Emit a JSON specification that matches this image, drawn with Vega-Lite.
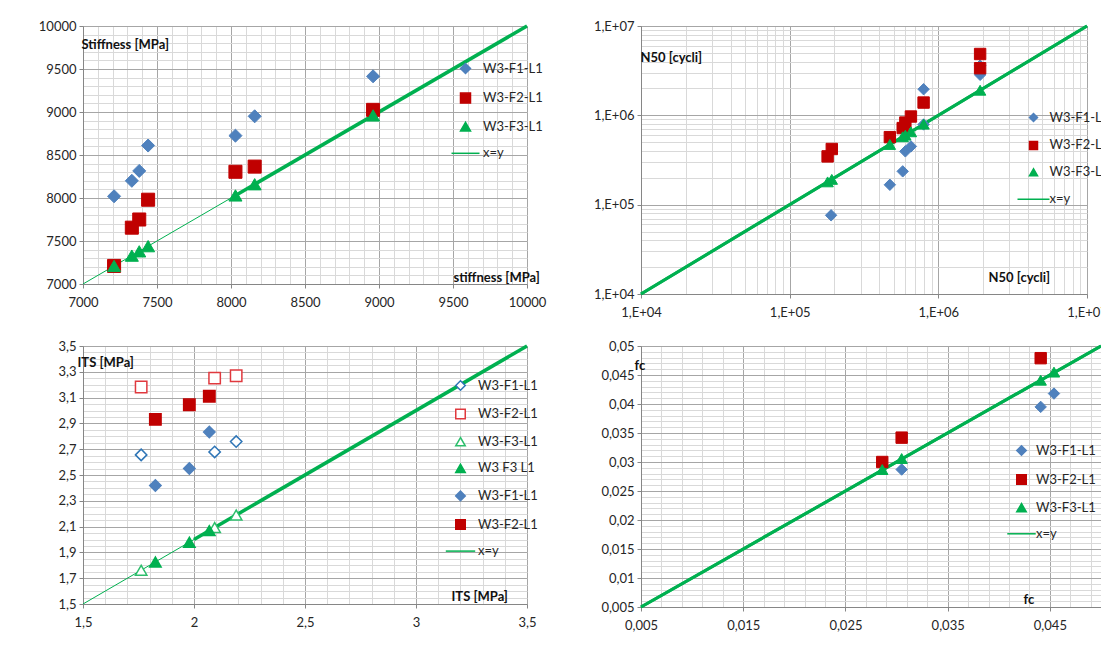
{
  "$schema": "https://vega.github.io/schema/vega-lite/v6.json",
  "background": "white",
  "padding": {"left": 37, "top": 18, "right": 0, "bottom": 0},
  "columns": 2,
  "align": "each",
  "bounds": "flush",
  "spacing": {"row": 52, "column": 114},
  "resolve": {
    "scale": {"x": "independent", "y": "independent", "shape": "independent", "fill": "independent", "stroke": "independent"},
    "legend": {"shape": "independent", "fill": "independent", "stroke": "independent"}
  },
  "config": {
    "font": "Lato",
    "view": {"stroke": "#A6A6A6", "strokeWidth": 1},
    "axis": {"labelFont": "Lato", "labelFontSize": 13, "labelColor": "#262626", "labelOverlap": false, "labelFlush": false, "labelBound": false, "titleFont": "Lato", "titleFontSize": 13, "titleFontWeight": "bold", "titleColor": "#111111", "tickColor": "#868686", "tickSize": 4, "domainColor": "#868686", "gridWidth": 1},
    "legend": {"labelFont": "Lato", "labelFontSize": 13, "labelColor": "#262626", "padding": 0, "titlePadding": 0, "symbolSize": 100}
  },
  "concat": [
    {
      "width": 444, "height": 258,
      "layer": [
        {
          "data": {"values": [{"x": 7000, "y": 7000}, {"x": 10000, "y": 10000}]},
          "mark": {"type": "line", "color": "#00B050", "strokeWidth": 1},
          "encoding": {
            "x": {"field": "x", "type": "quantitative", "scale": {"domain": [7000, 10000], "nice": false, "zero": false},
              "axis": {"orient": "bottom", "values": [7000,7100,7200,7300,7400,7500,7600,7700,7800,7900,8000,8100,8200,8300,8400,8500,8600,8700,8800,8900,9000,9100,9200,9300,9400,9500,9600,9700,9800,9900,10000], "grid": true, "gridColor": "#D9D9D9", "labels": false, "ticks": false, "domain": false, "title": null}},
            "y": {"field": "y", "type": "quantitative", "scale": {"domain": [7000, 10000], "nice": false, "zero": false},
              "axis": {"orient": "left", "values": [7000,7100,7200,7300,7400,7500,7600,7700,7800,7900,8000,8100,8200,8300,8400,8500,8600,8700,8800,8900,9000,9100,9200,9300,9400,9500,9600,9700,9800,9900,10000], "grid": true, "gridColor": "#D9D9D9", "labels": false, "ticks": false, "domain": false, "title": null}}
          }
        },
        {
          "data": {"values": [{"x": 8030, "y": 8030}, {"x": 10000, "y": 10000}]},
          "mark": {"type": "line", "color": "#00B050", "strokeWidth": 3.5},
          "encoding": {
            "x": {"field": "x", "type": "quantitative", "scale": {"domain": [7000, 10000], "nice": false, "zero": false},
              "axis": {"orient": "bottom", "values": [7000,7500,8000,8500,9000,9500,10000], "grid": true, "gridColor": "#A6A6A6", "format": "d", "labelPadding": 8, "title": "stiffness [MPa]", "titleAngle": 0, "titleAlign": "left", "titleBaseline": "middle", "titleX": 370, "titleY": -7}},
            "y": {"field": "y", "type": "quantitative", "scale": {"domain": [7000, 10000], "nice": false, "zero": false},
              "axis": {"orient": "left", "values": [7000,7500,8000,8500,9000,9500,10000], "grid": true, "gridColor": "#A6A6A6", "format": "d", "labelPadding": 3, "title": "Stiffness [MPa]", "titleAngle": 0, "titleAlign": "left", "titleBaseline": "middle", "titleX": -2, "titleY": 18}}
          }
        },
        {
          "data": {"values": [
            {"x": 7210, "y": 8020, "s": "W3-F1-L1"}, {"x": 7330, "y": 8200, "s": "W3-F1-L1"}, {"x": 7380, "y": 8315, "s": "W3-F1-L1"}, {"x": 7440, "y": 8610, "s": "W3-F1-L1"}, {"x": 8030, "y": 8725, "s": "W3-F1-L1"}, {"x": 8160, "y": 8950, "s": "W3-F1-L1"}, {"x": 8960, "y": 9415, "s": "W3-F1-L1"},
            {"x": 7210, "y": 7210, "s": "W3-F2-L1"}, {"x": 7330, "y": 7655, "s": "W3-F2-L1"}, {"x": 7380, "y": 7750, "s": "W3-F2-L1"}, {"x": 7440, "y": 7980, "s": "W3-F2-L1"}, {"x": 8030, "y": 8305, "s": "W3-F2-L1"}, {"x": 8160, "y": 8365, "s": "W3-F2-L1"}, {"x": 8960, "y": 9025, "s": "W3-F2-L1"},
            {"x": 7210, "y": 7210, "s": "W3-F3-L1"}, {"x": 7330, "y": 7330, "s": "W3-F3-L1"}, {"x": 7380, "y": 7380, "s": "W3-F3-L1"}, {"x": 7440, "y": 7440, "s": "W3-F3-L1"}, {"x": 8030, "y": 8030, "s": "W3-F3-L1"}, {"x": 8160, "y": 8160, "s": "W3-F3-L1"}, {"x": 8960, "y": 8960, "s": "W3-F3-L1"}
          ]},
          "mark": {"type": "point", "size": 170, "strokeWidth": 1, "opacity": 1},
          "encoding": {
            "x": {"field": "x", "type": "quantitative", "scale": {"domain": [7000, 10000], "nice": false, "zero": false}, "axis": null},
            "y": {"field": "y", "type": "quantitative", "scale": {"domain": [7000, 10000], "nice": false, "zero": false}, "axis": null},
            "fill": {"field": "s", "type": "nominal", "scale": {"domain": ["W3-F1-L1", "W3-F2-L1", "W3-F3-L1", "x=y"], "range": ["#4F81BD", "#C00000", "#00B050", "#00B050"]},
              "legend": {"orient": "none", "legendX": 376, "legendY": 36, "title": null, "rowPadding": 12.6, "labelOffset": 11}},
            "stroke": {"field": "s", "type": "nominal", "scale": {"domain": ["W3-F1-L1", "W3-F2-L1", "W3-F3-L1", "x=y"], "range": ["#4F81BD", "#C00000", "#00B050", "#00B050"]},
              "legend": {"orient": "none", "legendX": 376, "legendY": 36, "title": null, "rowPadding": 12.6, "labelOffset": 11}},
            "shape": {"field": "s", "type": "nominal", "scale": {"domain": ["W3-F1-L1", "W3-F2-L1", "W3-F3-L1", "x=y"], "range": ["diamond", "square", "triangle-up", "M-2.8,0H2.8"]},
              "legend": {"orient": "none", "legendX": 376, "legendY": 36, "title": null, "rowPadding": 12.6, "labelOffset": 11}}
          }
        }
      ],
      "resolve": {"axis": {"x": "independent", "y": "independent"}}
    },
    {
      "width": 446, "height": 268,
      "layer": [
        {
          "data": {"values": [{"x": 10000, "y": 10000}, {"x": 10000000, "y": 10000000}]},
          "mark": {"type": "line", "color": "#00B050", "strokeWidth": 3},
          "encoding": {
            "x": {"field": "x", "type": "quantitative", "scale": {"type": "log", "domain": [10000, 10000000], "nice": false},
              "axis": {"orient": "bottom", "values": [20000,30000,40000,50000,60000,70000,80000,90000,200000,300000,400000,500000,600000,700000,800000,900000,2000000,3000000,4000000,5000000,6000000,7000000,8000000,9000000], "grid": true, "gridColor": "#D9D9D9", "labels": false, "ticks": false, "domain": false, "title": null}},
            "y": {"field": "y", "type": "quantitative", "scale": {"type": "log", "domain": [10000, 10000000], "nice": false},
              "axis": {"orient": "left", "values": [20000,30000,40000,50000,60000,70000,80000,90000,200000,300000,400000,500000,600000,700000,800000,900000,2000000,3000000,4000000,5000000,6000000,7000000,8000000,9000000], "grid": true, "gridColor": "#D9D9D9", "labels": false, "ticks": false, "domain": false, "title": null}}
          }
        },
        {
          "data": {"values": [{"x": 10000, "y": 10000}, {"x": 10000000, "y": 10000000}]},
          "mark": {"type": "line", "color": "#00B050", "strokeWidth": 3},
          "encoding": {
            "x": {"field": "x", "type": "quantitative", "scale": {"type": "log", "domain": [10000, 10000000], "nice": false},
              "axis": {"orient": "bottom", "values": [10000, 100000, 1000000, 10000000], "grid": true, "gridColor": "#A6A6A6", "labelExpr": "'1,E+0' + round(log(datum.value) / LN10)", "labelPadding": 8, "title": "N50 [cycli]", "titleAngle": 0, "titleAlign": "left", "titleBaseline": "middle", "titleX": 347, "titleY": -17}},
            "y": {"field": "y", "type": "quantitative", "scale": {"type": "log", "domain": [10000, 10000000], "nice": false},
              "axis": {"orient": "left", "values": [10000, 100000, 1000000, 10000000], "grid": true, "gridColor": "#A6A6A6", "labelExpr": "'1,E+0' + round(log(datum.value) / LN10)", "labelPadding": 3, "title": "N50 [cycli]", "titleAngle": 0, "titleAlign": "left", "titleBaseline": "middle", "titleX": -1, "titleY": 31}}
          }
        },
        {
          "data": {"values": [
            {"x": 190000, "y": 76000, "s": "W3-F1-L1"}, {"x": 472000, "y": 167000, "s": "W3-F1-L1"}, {"x": 576000, "y": 236000, "s": "W3-F1-L1"}, {"x": 600000, "y": 395000, "s": "W3-F1-L1"}, {"x": 654000, "y": 449000, "s": "W3-F1-L1"}, {"x": 796000, "y": 1960000, "s": "W3-F1-L1"}, {"x": 796000, "y": 790000, "s": "W3-F1-L1"}, {"x": 1910000, "y": 2840000, "s": "W3-F1-L1"}, {"x": 1910000, "y": 3600000, "s": "W3-F1-L1"},
            {"x": 180000, "y": 347000, "s": "W3-F2-L1"}, {"x": 192000, "y": 420000, "s": "W3-F2-L1"}, {"x": 472000, "y": 570000, "s": "W3-F2-L1"}, {"x": 576000, "y": 720000, "s": "W3-F2-L1"}, {"x": 600000, "y": 830000, "s": "W3-F2-L1"}, {"x": 654000, "y": 970000, "s": "W3-F2-L1"}, {"x": 796000, "y": 1390000, "s": "W3-F2-L1"}, {"x": 1910000, "y": 4860000, "s": "W3-F2-L1"}, {"x": 1910000, "y": 3370000, "s": "W3-F2-L1"},
            {"x": 180000, "y": 180000, "s": "W3-F3-L1"}, {"x": 192000, "y": 192000, "s": "W3-F3-L1"}, {"x": 472000, "y": 472000, "s": "W3-F3-L1"}, {"x": 576000, "y": 576000, "s": "W3-F3-L1"}, {"x": 600000, "y": 600000, "s": "W3-F3-L1"}, {"x": 654000, "y": 654000, "s": "W3-F3-L1"}, {"x": 796000, "y": 796000, "s": "W3-F3-L1"}, {"x": 1910000, "y": 1910000, "s": "W3-F3-L1"}
          ]},
          "mark": {"type": "point", "size": 130, "strokeWidth": 1, "opacity": 1},
          "encoding": {
            "x": {"field": "x", "type": "quantitative", "scale": {"type": "log", "domain": [10000, 10000000], "nice": false}, "axis": null},
            "y": {"field": "y", "type": "quantitative", "scale": {"type": "log", "domain": [10000, 10000000], "nice": false}, "axis": null},
            "fill": {"field": "s", "type": "nominal", "scale": {"domain": ["W3-F1-L1", "W3-F2-L1", "W3-F3-L1", "x=y"], "range": ["#4F81BD", "#C00000", "#00B050", "#00B050"]},
              "legend": {"orient": "none", "legendX": 386, "legendY": 85, "title": null, "rowPadding": 12.9, "labelOffset": 9.5, "symbolSize": 64, "encode": {"symbols": {"update": {"strokeWidth": {"value": 3}}}}}},
            "stroke": {"field": "s", "type": "nominal", "scale": {"domain": ["W3-F1-L1", "W3-F2-L1", "W3-F3-L1", "x=y"], "range": ["#4F81BD", "#C00000", "#00B050", "#00B050"]},
              "legend": {"orient": "none", "legendX": 386, "legendY": 85, "title": null, "rowPadding": 12.9, "labelOffset": 9.5, "symbolSize": 64, "encode": {"symbols": {"update": {"strokeWidth": {"value": 3}}}}}},
            "shape": {"field": "s", "type": "nominal", "scale": {"domain": ["W3-F1-L1", "W3-F2-L1", "W3-F3-L1", "x=y"], "range": ["diamond", "square", "triangle-up", "M-4,0H4"]},
              "legend": {"orient": "none", "legendX": 386, "legendY": 85, "title": null, "rowPadding": 12.9, "labelOffset": 9.5, "symbolSize": 64, "encode": {"symbols": {"update": {"strokeWidth": {"value": 3}}}}}}
          }
        }
      ],
      "resolve": {"axis": {"x": "independent", "y": "independent"}}
    },
    {
      "width": 444, "height": 258,
      "layer": [
        {
          "data": {"values": [{"x": 1.5, "y": 1.5}, {"x": 3.5, "y": 3.5}]},
          "mark": {"type": "line", "color": "#00B050", "strokeWidth": 1},
          "encoding": {
            "x": {"field": "x", "type": "quantitative", "scale": {"domain": [1.5, 3.5], "nice": false, "zero": false},
              "axis": {"orient": "bottom", "values": [1.5,1.6,1.7,1.8,1.9,2,2.1,2.2,2.3,2.4,2.5,2.6,2.7,2.8,2.9,3,3.1,3.2,3.3,3.4,3.5], "grid": true, "gridColor": "#D9D9D9", "labels": false, "ticks": false, "domain": false, "title": null}},
            "y": {"field": "y", "type": "quantitative", "scale": {"domain": [1.5, 3.5], "nice": false, "zero": false},
              "axis": {"orient": "left", "values": [1.5,1.55,1.6,1.65,1.7,1.75,1.8,1.85,1.9,1.95,2,2.05,2.1,2.15,2.2,2.25,2.3,2.35,2.4,2.45,2.5,2.55,2.6,2.65,2.7,2.75,2.8,2.85,2.9,2.95,3,3.05,3.1,3.15,3.2,3.25,3.3,3.35,3.4,3.45,3.5], "grid": true, "gridColor": "#D9D9D9", "labels": false, "ticks": false, "domain": false, "title": null}}
          }
        },
        {
          "data": {"values": [{"x": 2.0, "y": 2.0}, {"x": 3.5, "y": 3.5}]},
          "mark": {"type": "line", "color": "#00B050", "strokeWidth": 3.5},
          "encoding": {
            "x": {"field": "x", "type": "quantitative", "scale": {"domain": [1.5, 3.5], "nice": false, "zero": false},
              "axis": {"orient": "bottom", "values": [1.5, 2, 2.5, 3, 3.5], "grid": true, "gridColor": "#A6A6A6", "labelExpr": "replace(toString(datum.value), '.', ',')", "labelPadding": 8, "title": "ITS [MPa]", "titleAngle": 0, "titleAlign": "left", "titleBaseline": "middle", "titleX": 368, "titleY": -8}},
            "y": {"field": "y", "type": "quantitative", "scale": {"domain": [1.5, 3.5], "nice": false, "zero": false},
              "axis": {"orient": "left", "values": [1.5,1.7,1.9,2.1,2.3,2.5,2.7,2.9,3.1,3.3,3.5], "grid": true, "gridColor": "#A6A6A6", "labelExpr": "replace(toString(datum.value), '.', ',')", "labelPadding": 3, "title": "ITS [MPa]", "titleAngle": 0, "titleAlign": "left", "titleBaseline": "middle", "titleX": -6, "titleY": 16}}
          }
        },
        {
          "data": {"values": [
            {"x": 1.762, "y": 2.656, "s": "W3-F1-L1"}, {"x": 2.093, "y": 2.679, "s": "W3-F1-L1"}, {"x": 2.19, "y": 2.759, "s": "W3-F1-L1"},
            {"x": 1.762, "y": 3.182, "s": "W3-F2-L1"}, {"x": 2.093, "y": 3.251, "s": "W3-F2-L1"}, {"x": 2.19, "y": 3.269, "s": "W3-F2-L1"},
            {"x": 1.762, "y": 1.762, "s": "W3-F3-L1"}, {"x": 2.093, "y": 2.093, "s": "W3-F3-L1"}, {"x": 2.19, "y": 2.19, "s": "W3-F3-L1"},
            {"x": 1.826, "y": 1.826, "s": "W3 F3 L1"}, {"x": 1.979, "y": 1.979, "s": "W3 F3 L1"}, {"x": 2.069, "y": 2.069, "s": "W3 F3 L1"},
            {"x": 1.826, "y": 2.418, "s": "W3-F1-L1 "}, {"x": 1.979, "y": 2.551, "s": "W3-F1-L1 "}, {"x": 2.069, "y": 2.833, "s": "W3-F1-L1 "},
            {"x": 1.826, "y": 2.931, "s": "W3-F2-L1 "}, {"x": 1.979, "y": 3.044, "s": "W3-F2-L1 "}, {"x": 2.069, "y": 3.110, "s": "W3-F2-L1 "}
          ]},
          "mark": {"type": "point", "size": 130, "strokeWidth": 1.5, "opacity": 1},
          "encoding": {
            "x": {"field": "x", "type": "quantitative", "scale": {"domain": [1.5, 3.5], "nice": false, "zero": false}, "axis": null},
            "y": {"field": "y", "type": "quantitative", "scale": {"domain": [1.5, 3.5], "nice": false, "zero": false}, "axis": null},
            "fill": {"field": "s", "type": "nominal", "scale": {"domain": ["W3-F1-L1", "W3-F2-L1", "W3-F3-L1", "W3 F3 L1", "W3-F1-L1 ", "W3-F2-L1 ", "x=y"], "range": ["#FFFFFF", "#FFFFFF", "#FFFFFF", "#00B050", "#4F81BD", "#C00000", "#00B050"]},
              "legend": {"orient": "none", "legendX": 371, "legendY": 33, "title": null, "rowPadding": 11.6, "labelOffset": 11, "symbolSize": 90}},
            "stroke": {"field": "s", "type": "nominal", "scale": {"domain": ["W3-F1-L1", "W3-F2-L1", "W3-F3-L1", "W3 F3 L1", "W3-F1-L1 ", "W3-F2-L1 ", "x=y"], "range": ["#2E75B6", "#E0393E", "#2DBE6C", "#00B050", "#4F81BD", "#C00000", "#00B050"]},
              "legend": {"orient": "none", "legendX": 371, "legendY": 33, "title": null, "rowPadding": 11.6, "labelOffset": 11, "symbolSize": 90}},
            "shape": {"field": "s", "type": "nominal", "scale": {"domain": ["W3-F1-L1", "W3-F2-L1", "W3-F3-L1", "W3 F3 L1", "W3-F1-L1 ", "W3-F2-L1 ", "x=y"], "range": ["diamond", "square", "triangle-up", "triangle-up", "diamond", "square", "M-3.1,0H3.1"]},
              "legend": {"orient": "none", "legendX": 371, "legendY": 33, "title": null, "rowPadding": 11.6, "labelOffset": 11, "symbolSize": 90}}
          }
        }
      ],
      "resolve": {"axis": {"x": "independent", "y": "independent"}}
    },
    {
      "width": 460, "height": 261,
      "layer": [
        {
          "data": {"values": [{"x": 0.005, "y": 0.005}, {"x": 0.05, "y": 0.05}]},
          "mark": {"type": "line", "color": "#00B050", "strokeWidth": 3},
          "encoding": {
            "x": {"field": "x", "type": "quantitative", "scale": {"domain": [0.005, 0.05], "nice": false, "zero": false},
              "axis": {"orient": "bottom", "values": [0.005,0.007,0.009,0.011,0.013,0.015,0.017,0.019,0.021,0.023,0.025,0.027,0.029,0.031,0.033,0.035,0.037,0.039,0.041,0.043,0.045,0.047,0.049], "grid": true, "gridColor": "#D9D9D9", "labels": false, "ticks": false, "domain": false, "title": null}},
            "y": {"field": "y", "type": "quantitative", "scale": {"domain": [0.005, 0.05], "nice": false, "zero": false},
              "axis": {"orient": "left", "values": [0.005,0.006,0.007,0.008,0.009,0.01,0.011,0.012,0.013,0.014,0.015,0.016,0.017,0.018,0.019,0.02,0.021,0.022,0.023,0.024,0.025,0.026,0.027,0.028,0.029,0.03,0.031,0.032,0.033,0.034,0.035,0.036,0.037,0.038,0.039,0.04,0.041,0.042,0.043,0.044,0.045,0.046,0.047,0.048,0.049,0.05], "grid": true, "gridColor": "#D9D9D9", "labels": false, "ticks": false, "domain": false, "title": null}}
          }
        },
        {
          "data": {"values": [{"x": 0.005, "y": 0.005}, {"x": 0.05, "y": 0.05}]},
          "mark": {"type": "line", "color": "#00B050", "strokeWidth": 3},
          "encoding": {
            "x": {"field": "x", "type": "quantitative", "scale": {"domain": [0.005, 0.05], "nice": false, "zero": false},
              "axis": {"orient": "bottom", "values": [0.005, 0.015, 0.025, 0.035, 0.045], "grid": true, "gridColor": "#A6A6A6", "labelExpr": "replace(toString(datum.value), '.', ',')", "labelPadding": 8, "title": "fc", "titleAngle": 0, "titleAlign": "left", "titleBaseline": "middle", "titleX": 382, "titleY": -8}},
            "y": {"field": "y", "type": "quantitative", "scale": {"domain": [0.005, 0.05], "nice": false, "zero": false},
              "axis": {"orient": "left", "values": [0.005,0.01,0.015,0.02,0.025,0.03,0.035,0.04,0.045,0.05], "grid": true, "gridColor": "#A6A6A6", "labelExpr": "replace(toString(datum.value), '.', ',')", "labelPadding": 3, "title": "fc", "titleAngle": 0, "titleAlign": "left", "titleBaseline": "middle", "titleX": -7, "titleY": 19}}
          }
        },
        {
          "data": {"values": [
            {"x": 0.0305, "y": 0.0287, "s": "W3-F1-L1"}, {"x": 0.0441, "y": 0.0395, "s": "W3-F1-L1"}, {"x": 0.0454, "y": 0.0418, "s": "W3-F1-L1"},
            {"x": 0.0286, "y": 0.0300, "s": "W3-F2-L1"}, {"x": 0.0305, "y": 0.0342, "s": "W3-F2-L1"}, {"x": 0.0441, "y": 0.0479, "s": "W3-F2-L1"},
            {"x": 0.0286, "y": 0.0287, "s": "W3-F3-L1"}, {"x": 0.0305, "y": 0.0306, "s": "W3-F3-L1"}, {"x": 0.0441, "y": 0.0441, "s": "W3-F3-L1"}, {"x": 0.0454, "y": 0.0455, "s": "W3-F3-L1"}
          ]},
          "mark": {"type": "point", "size": 130, "strokeWidth": 1, "opacity": 1},
          "encoding": {
            "x": {"field": "x", "type": "quantitative", "scale": {"domain": [0.005, 0.05], "nice": false, "zero": false}, "axis": null},
            "y": {"field": "y", "type": "quantitative", "scale": {"domain": [0.005, 0.05], "nice": false, "zero": false}, "axis": null},
            "fill": {"field": "s", "type": "nominal", "scale": {"domain": ["W3-F1-L1", "W3-F2-L1", "W3-F3-L1", "x=y"], "range": ["#4F81BD", "#C00000", "#00B050", "#00B050"]},
              "legend": {"orient": "none", "legendX": 374, "legendY": 98, "title": null, "rowPadding": 12.1, "labelOffset": 8, "symbolSize": 90}},
            "stroke": {"field": "s", "type": "nominal", "scale": {"domain": ["W3-F1-L1", "W3-F2-L1", "W3-F3-L1", "x=y"], "range": ["#4F81BD", "#C00000", "#00B050", "#00B050"]},
              "legend": {"orient": "none", "legendX": 374, "legendY": 98, "title": null, "rowPadding": 12.1, "labelOffset": 8, "symbolSize": 90}},
            "shape": {"field": "s", "type": "nominal", "scale": {"domain": ["W3-F1-L1", "W3-F2-L1", "W3-F3-L1", "x=y"], "range": ["diamond", "square", "triangle-up", "M-3,0H3"]},
              "legend": {"orient": "none", "legendX": 374, "legendY": 98, "title": null, "rowPadding": 12.1, "labelOffset": 8, "symbolSize": 90}}
          }
        }
      ],
      "resolve": {"axis": {"x": "independent", "y": "independent"}}
    }
  ]
}
